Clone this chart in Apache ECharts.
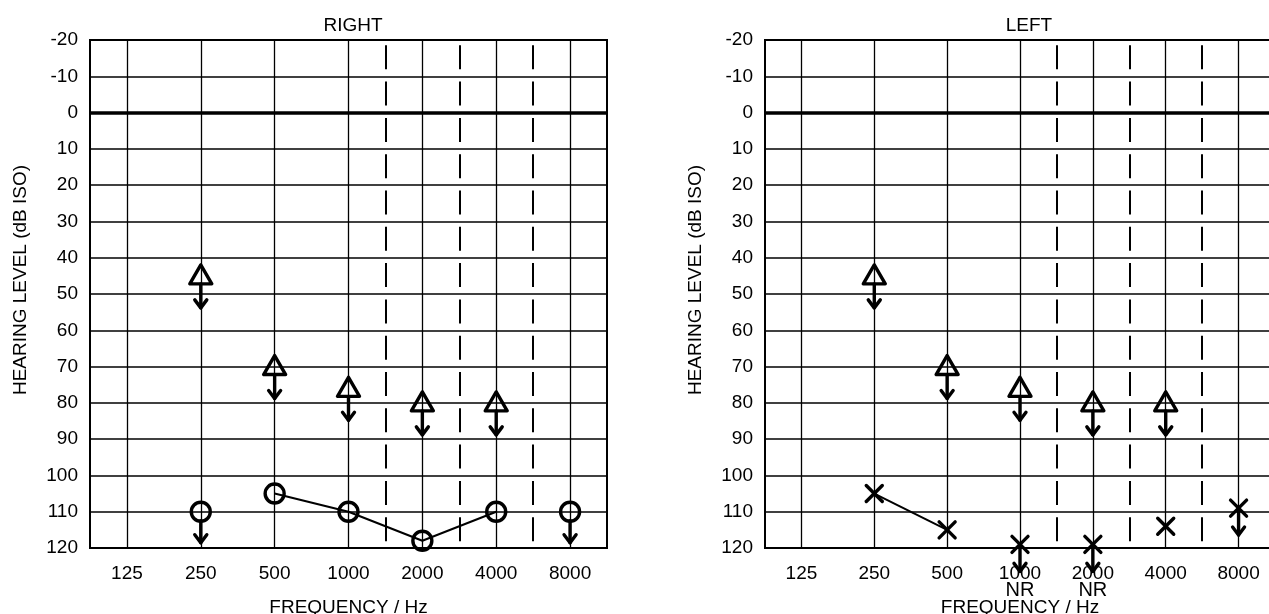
<!DOCTYPE html>
<html>
<head>
<meta charset="utf-8">
<script src="https://cdn.jsdelivr.net/npm/echarts@6/dist/echarts.min.js"></script>
<style>
html,body{margin:0;padding:0;background:#fff;}
#chart{width:1269px;height:614px;}
</style>
</head>
<body>
<div id="chart"></div>
<script>
// ---- data ----
const freqTicks = [125, 250, 500, 1000, 2000, 4000, 8000];
const interOctaveFreq = [1500, 3000, 6000];
const dbMin = -20, dbMax = 120, dbStep = 10;
const panelTitles = ['RIGHT', 'LEFT'];
const yAxisTitle = 'HEARING LEVEL (dB ISO)';
const xAxisTitle = 'FREQUENCY / Hz';

const rightBoneFreq = [250, 500, 1000, 2000, 4000];
const rightBoneDb = [45, 70, 76, 80, 80];
const rightAirFreq = [250, 500, 1000, 2000, 4000, 8000];
const rightAirDb = [110, 105, 110, 118, 110, 110];
const rightAirNoResponse = [1, 0, 0, 0, 0, 1];
const rightAirJoined = [0, 1, 1, 1, 1, 0];

const leftBoneFreq = [250, 500, 1000, 2000, 4000];
const leftBoneDb = [45, 70, 76, 80, 80];
const leftAirFreq = [250, 500, 1000, 2000, 4000, 8000];
const leftAirDb = [105, 115, 119, 119, 114, 109];
const leftAirNoResponse = [0, 0, 1, 1, 0, 1];
const leftAirJoined = [1, 1, 0, 0, 0, 0];
const leftAirNote = ['', '', 'NR', 'NR', '', ''];

// ---- helpers ----
const FONT = "'Liberation Sans', Arial, Helvetica, sans-serif";
const oct = f => Math.log2(f / 125);
const xMin = -0.5, xMax = freqTicks.length - 0.5;

function arrow(px, from, to) {
  const st = {stroke: '#000', lineWidth: 3.4, fill: null, lineCap: 'round', lineJoin: 'round'};
  return [
    {type: 'line', shape: {x1: px, y1: from, x2: px, y2: to}, style: st},
    {type: 'polyline', shape: {points: [[px - 6, to - 8], [px, to], [px + 6, to - 8]]}, style: st}
  ];
}

function makeRender(kind, nrArr, noteArr) {
  return function (params, api) {
    const x = api.value(0), y = api.value(1);
    const p = api.coord([x, y]);
    const bottom = api.coord([x, dbMax])[1];
    const st = {stroke: '#000', lineWidth: 3.4, fill: null, lineCap: 'round', lineJoin: 'round'};
    const px = p[0], py = p[1];
    let children = [];
    const nr = nrArr ? nrArr[params.dataIndex] : 0;
    if (kind === 'tri') {
      children.push({type: 'polygon', shape: {points: [[px, py - 11], [px - 11, py + 8], [px + 11, py + 8]]}, style: st});
      children = children.concat(arrow(px, py + 8, py + 32));
    } else if (kind === 'circle') {
      children.push({type: 'circle', shape: {cx: px, cy: py, r: 9.5}, style: st});
      if (nr) children = children.concat(arrow(px, py + 9, py + 31));
    } else if (kind === 'cross') {
      children.push({type: 'line', shape: {x1: px - 8, y1: py - 8, x2: px + 8, y2: py + 8}, style: st});
      children.push({type: 'line', shape: {x1: px - 8, y1: py + 8, x2: px + 8, y2: py - 8}, style: st});
      if (nr) children = children.concat(arrow(px, py, py + 27));
      const note = noteArr ? noteArr[params.dataIndex] : '';
      if (note) {
        children.push({type: 'text', style: {text: note, x: px, y: bottom + 42, align: 'center', verticalAlign: 'middle',
          fontSize: 20, fontFamily: FONT, fill: '#000'}});
      }
    }
    return {type: 'group', children: children};
  };
}

function gridLines() {
  const data = [];
  freqTicks.forEach(f => {
    data.push([{coord: [oct(f), dbMin], lineStyle: {color: '#000', width: 1.3, type: 'solid'}}, {coord: [oct(f), dbMax]}]);
  });
  interOctaveFreq.forEach(f => {
    const x = Math.floor(oct(f)) + 0.5;
    data.push([{coord: [x, dbMin], lineStyle: {color: '#000', width: 2, type: [24, 12.3], dashOffset: 31}}, {coord: [x, dbMax]}]);
  });
  data.push([{coord: [xMin, 0], lineStyle: {color: '#000', width: 3.5, type: 'solid'}}, {coord: [xMax, 0]}]);
  return {silent: true, symbol: 'none', animation: false, label: {show: false}, data: data};
}

const grids = [
  {left: 90, top: 40, width: 517, height: 508},
  {left: 765, top: 40, width: 510, height: 508}
];

const xAxes = grids.map((g, i) => ({
  type: 'value', gridIndex: i, min: xMin, max: xMax, interval: 0.5,
  axisLine: {show: false}, axisTick: {show: false}, splitLine: {show: false},
  axisLabel: {
    color: '#000', fontSize: 19, fontFamily: FONT, margin: 16,
    formatter: v => {
      const k = Math.round(v);
      return (Math.abs(v - k) < 1e-6 && k >= 0 && k < freqTicks.length) ? String(freqTicks[k]) : '';
    }
  },
  name: xAxisTitle, nameLocation: 'middle', nameGap: 50,
  nameTextStyle: {color: '#000', fontSize: 19, fontFamily: FONT}
}));

const yAxes = grids.map((g, i) => ({
  type: 'value', gridIndex: i, inverse: true, min: dbMin, max: dbMax, interval: dbStep,
  axisLine: {show: false}, axisTick: {show: false},
  splitLine: {show: true, lineStyle: {color: '#000', width: 1.5}},
  axisLabel: {color: '#000', fontSize: 19, fontFamily: FONT, margin: 12},
  name: yAxisTitle, nameLocation: 'middle', nameGap: 60,
  nameTextStyle: {color: '#000', fontSize: 19, fontFamily: FONT, padding: [0, 0, 0, 28]}
}));

function joinedLine(freqs, dbs, joined, gi) {
  const d = [];
  freqs.forEach((f, k) => { if (joined[k]) d.push([oct(f), dbs[k]]); });
  return {
    type: 'line', xAxisIndex: gi, yAxisIndex: gi, data: d, symbol: 'none', z: 3,
    lineStyle: {color: '#000', width: 2}, animation: false, markLine: gridLines()
  };
}

function markers(freqs, dbs, kind, gi, nrArr, noteArr) {
  return {
    type: 'custom', xAxisIndex: gi, yAxisIndex: gi, z: 5, animation: false, clip: false,
    data: freqs.map((f, k) => [oct(f), dbs[k]]),
    renderItem: makeRender(kind, nrArr, noteArr)
  };
}

const option = {
  backgroundColor: '#fff',
  animation: false,
  textStyle: {fontFamily: FONT},
  title: [
    {text: panelTitles[0], left: 348, top: 11, textAlign: 'center', textStyle: {fontSize: 19, fontWeight: 'normal', color: '#000', fontFamily: FONT}},
    {text: panelTitles[1], left: 1024, top: 11, textAlign: 'center', textStyle: {fontSize: 19, fontWeight: 'normal', color: '#000', fontFamily: FONT}}
  ],
  grid: grids.map(g => Object.assign({show: true, borderColor: '#000', borderWidth: 2, backgroundColor: 'transparent',
    containLabel: false, outerBoundsMode: 'none'}, g)),
  xAxis: xAxes,
  yAxis: yAxes,
  series: [
    joinedLine(rightAirFreq, rightAirDb, rightAirJoined, 0),
    markers(rightBoneFreq, rightBoneDb, 'tri', 0),
    markers(rightAirFreq, rightAirDb, 'circle', 0, rightAirNoResponse),
    joinedLine(leftAirFreq, leftAirDb, leftAirJoined, 1),
    markers(leftBoneFreq, leftBoneDb, 'tri', 1),
    markers(leftAirFreq, leftAirDb, 'cross', 1, leftAirNoResponse, leftAirNote)
  ]
};

const chart = echarts.init(document.getElementById('chart'), null, {renderer: 'canvas'});
chart.setOption(option);
</script>
</body>
</html>
